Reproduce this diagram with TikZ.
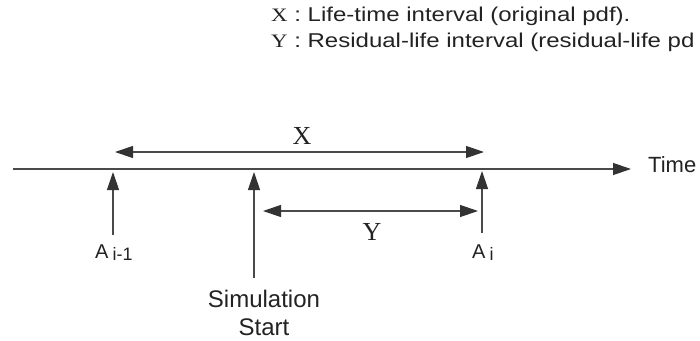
\documentclass[tikz,border=0pt]{standalone}
\usepackage{graphicx}
\usepackage{fontspec}
\setmainfont{Liberation Sans}
\newfontfamily\serifx{Liberation Serif}
\usetikzlibrary{arrows.meta}
\definecolor{linegray}{HTML}{4A4A4A}
\definecolor{tipgray}{HTML}{333333}
\definecolor{txt}{HTML}{222222}
\tikzset{
  tline/.style={draw=linegray, line width=1.2pt},
  tipend/.style={-{Triangle[length=18pt,width=12pt,color=tipgray]}},
  dtipend/.style={{Triangle[length=18pt,width=12pt,color=tipgray]}-{Triangle[length=18pt,width=12pt,color=tipgray]}},
  lab/.style={inner sep=0pt, text=txt},
  slab/.style={inner sep=0pt, font=\serifx\fontsize{26}{28}\selectfont, text=txt},
}
\newcommand{\legline}[2]{\scalebox{1.2}[1]{\fontsize{20}{24}\selectfont{\serifx\fontsize{19}{24}\selectfont #1} : #2}}
\begin{document}
\begin{tikzpicture}[x=1pt,y=-1pt]
\useasboundingbox (0,0) rectangle (700,340);
% legend
\node[lab, anchor=base west] (leg1) at (271,21) {\legline{X}{Life-time interval (original pdf).}};
\node[lab, anchor=base west] (leg2) at (271,47) {\legline{Y}{Residual-life interval (residual-life pd}};
% time axis
\coordinate (t0) at (13,169);
\coordinate (t1) at (631,169);
\draw[tline, tipend] (t0) -- (t1);
\node[lab, anchor=base west, font=\fontsize{22}{24}\selectfont] (time) at (648,172) {Time};
% X interval
\coordinate (x0) at (115,152);
\coordinate (x1) at (484,152);
\draw[tline, dtipend] (x0) -- (x1);
\node[slab] (xl) at (302,136) {X};
% Y interval
\coordinate (y0) at (263,211);
\coordinate (y1) at (478,211);
\draw[tline, dtipend] (y0) -- (y1);
\node[slab] (yl) at (372,232) {Y};
% ticks
\coordinate (a0b) at (113,235);
\coordinate (a0t) at (113,172);
\draw[tline, tipend] (a0b) -- (a0t);
\coordinate (sb) at (254,278);
\coordinate (st) at (254,172);
\draw[tline, tipend] (sb) -- (st);
\coordinate (a1b) at (482,233);
\coordinate (a1t) at (482,171);
\draw[tline, tipend] (a1b) -- (a1t);
% labels
\node[lab, anchor=base west, font=\fontsize{20}{24}\selectfont] (ai0) at (95,258) {A\hspace{4pt}\raisebox{-2pt}{\fontsize{18}{20}\selectfont i-1}};
\node[lab, anchor=base west, font=\fontsize{20}{24}\selectfont] (ai1) at (472,258) {A\hspace{4pt}\raisebox{-2pt}{\fontsize{18}{20}\selectfont i}};
\node[lab, anchor=base, align=center, font=\fontsize{24}{28}\selectfont] (sim) at (264,335) {Simulation\\Start};
\end{tikzpicture}
\end{document}
